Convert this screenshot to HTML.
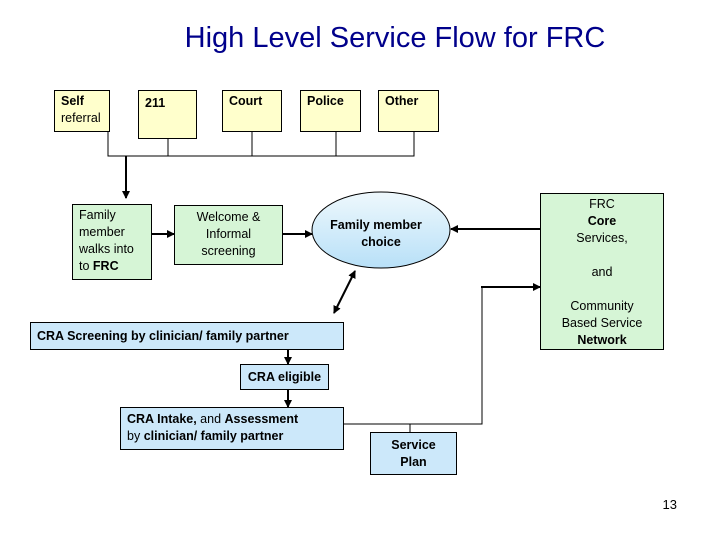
<!DOCTYPE html>
<html><head><style>
body{margin:0;width:720px;height:540px;background:#fff;position:relative;font-family:"Liberation Sans",sans-serif;overflow:hidden}
.b{position:absolute;border:1px solid #000;box-sizing:border-box;font-size:12.5px;line-height:17px}
.y{background:#ffffcc}.g{background:#d6f5d6}.bl{background:#cce8fa}
</style></head><body>
<div style="position:absolute;left:0;width:790px;top:22px;text-align:center;font-size:29px;color:#00008b">High Level Service Flow for FRC</div>
<div class="b y" style="left:54px;top:90px;width:56px;height:42px;padding:2px 6px"><b>Self</b><br>referral</div>
<div class="b y" style="left:138px;top:90px;width:59px;height:49px;padding:4px 6px"><b>211</b></div>
<div class="b y" style="left:222px;top:90px;width:60px;height:42px;padding:2px 6px"><b>Court</b></div>
<div class="b y" style="left:300px;top:90px;width:61px;height:42px;padding:2px 6px"><b>Police</b></div>
<div class="b y" style="left:378px;top:90px;width:61px;height:42px;padding:2px 6px"><b>Other</b></div>
<div class="b g" style="left:72px;top:204px;width:80px;height:76px;padding:2px 6px">Family member walks into to <b>FRC</b></div>
<div class="b g" style="left:174px;top:205px;width:109px;height:60px;padding:3px 8px;text-align:center">Welcome &amp; Informal screening</div>
<div class="b g" style="left:540px;top:193px;width:124px;height:157px;padding:2px 14px;text-align:center">FRC<br><b>Core</b><br>Services,<br><br>and<br><br>Community Based Service <b>Network</b></div>
<div class="b bl" style="left:30px;top:322px;width:314px;height:28px;padding:5px 6px"><b>CRA Screening by clinician/ family partner</b></div>
<div class="b bl" style="left:240px;top:364px;width:89px;height:26px;padding:4px 0;text-align:center"><b>CRA eligible</b></div>
<div class="b bl" style="left:120px;top:407px;width:224px;height:43px;padding:3px 6px"><b>CRA Intake,</b> and <b>Assessment</b><br>by <b>clinician/ family partner</b></div>
<div class="b bl" style="left:370px;top:432px;width:87px;height:43px;padding:4px 0;text-align:center"><b>Service<br>Plan</b></div>
<svg style="position:absolute;left:0;top:0" width="720" height="540">
<defs><marker id="a" markerWidth="8" markerHeight="8" refX="7" refY="4" orient="auto" markerUnits="userSpaceOnUse"><path d="M0,0L8,4L0,8z"/></marker>
<marker id="s" markerWidth="8" markerHeight="8" refX="1" refY="4" orient="auto" markerUnits="userSpaceOnUse"><path d="M8,0L0,4L8,8z"/></marker>
<linearGradient id="gr" x1="0" y1="0" x2="0" y2="1"><stop offset="0" stop-color="#eef8fc"/><stop offset="1" stop-color="#b8e0f8"/></linearGradient></defs>
<g stroke="#000" fill="none" stroke-width="1">
<path d="M108,132V156H414V132M168,139V156M252,132V156M336,132V156"/>
<path d="M344,424H482V287" />
<path d="M410,424V432"/>
</g>
<g stroke="#000" fill="none" stroke-width="2">
<path d="M126,156V198" marker-end="url(#a)"/>
<path d="M151,234H174" marker-end="url(#a)"/>
<path d="M283,234H312" marker-end="url(#a)"/>
<path d="M540,229H451" marker-end="url(#a)"/>
<path d="M334,313L355,271" marker-end="url(#a)" marker-start="url(#s)"/>
<path d="M481,287H540" marker-end="url(#a)"/>
<path d="M288,350V364" marker-end="url(#a)"/>
<path d="M288,390V407" marker-end="url(#a)"/>
</g>
<ellipse cx="381" cy="230" rx="69" ry="38" fill="url(#gr)" stroke="#000"/>
<text x="376" y="229" font-size="12.5" font-weight="bold" text-anchor="middle" font-family="Liberation Sans">Family member</text>
<text x="381" y="246" font-size="12.5" font-weight="bold" text-anchor="middle" font-family="Liberation Sans">choice</text>
<text x="677" y="509" font-size="13" text-anchor="end" font-family="Liberation Sans">13</text>
</svg>
</body></html>
